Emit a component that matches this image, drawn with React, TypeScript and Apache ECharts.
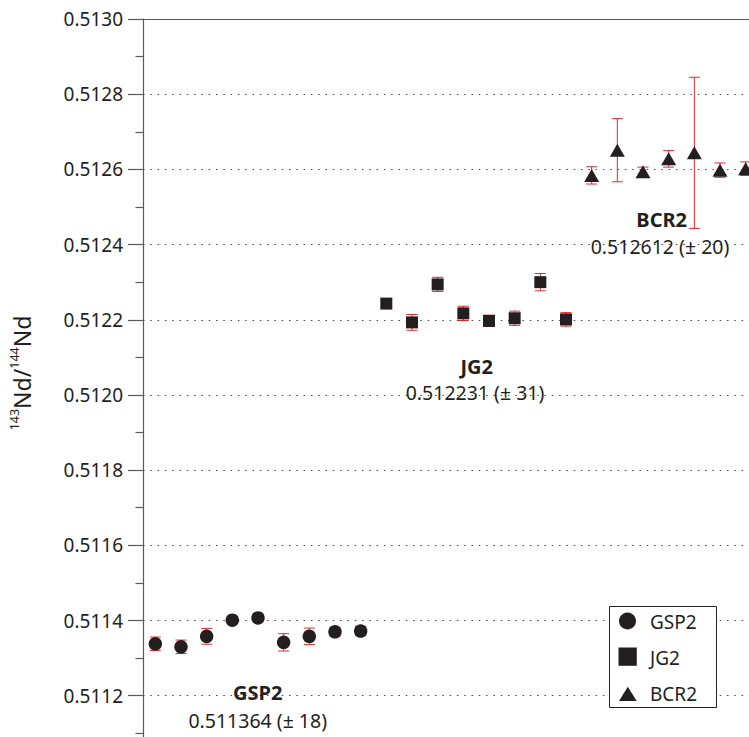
import React, { useEffect, useRef } from "react";
import * as echarts from "echarts";

const gsp2Index = [1, 2, 3, 4, 5, 6, 7, 8, 9];
const gsp2Values = [0.511338, 0.51133, 0.511358, 0.511401, 0.511407, 0.511342, 0.511358, 0.51137, 0.511372];
const gsp2Errors = [0.000018, 0.000018, 0.000021, 0.000008, 0.00001, 0.000023, 0.000022, 0.000012, 0.000012];

const jg2Index = [10, 11, 12, 13, 14, 15, 16, 17];
const jg2Values = [0.512243, 0.512193, 0.512294, 0.512217, 0.512197, 0.512204, 0.5123, 0.512201];
const jg2Errors = [0.000008, 0.000021, 0.000019, 0.000019, 0.000015, 0.000019, 0.000023, 0.000018];

const bcr2Index = [18, 19, 20, 21, 22, 23, 24];
const bcr2Values = [0.512584, 0.512651, 0.512594, 0.512628, 0.512644, 0.512598, 0.512602];
const bcr2Errors = [0.000023, 0.000084, 0.000012, 0.000022, 0.000201, 0.000019, 0.000018];

const sampleNames = ["GSP2", "JG2", "BCR2"];
const sampleMeans = ["0.511364 (± 18)", "0.512231 (± 31)", "0.512612 (± 20)"];

const yMin = 0.511;
const yMax = 0.513;
const yInterval = 0.0002;

const FONT = "'Noto Sans', 'Open Sans', sans-serif";
const INK = "#231f20";
const AXIS = "#5a5a5a";
const RED = "#e8262d";

function toXY(idx: number[], vals: number[]) {
  return idx.map((x, i) => [x, vals[i]]);
}
function toErr(idx: number[], vals: number[], errs: number[]) {
  return idx.map((x, i) => [x, vals[i], errs[i]]);
}

export default function App() {
  const ref = useRef<HTMLDivElement>(null);

  useEffect(() => {
    if (!ref.current) return;
    const chart = echarts.init(ref.current, undefined, { renderer: "svg" });

    const errorRender = (params: any, api: any) => {
      const x = api.value(0);
      const y = api.value(1);
      const e = api.value(2);
      const top = api.coord([x, y + e]);
      const bot = api.coord([x, y - e]);
      const hw = 5.5;
      const style = { stroke: RED, lineWidth: 1, fill: "none" };
      return {
        type: "group",
        children: [
          { type: "line", shape: { x1: top[0], y1: top[1], x2: bot[0], y2: bot[1] }, style },
          { type: "line", shape: { x1: top[0] - hw, y1: top[1], x2: top[0] + hw, y2: top[1] }, style },
          { type: "line", shape: { x1: bot[0] - hw, y1: bot[1], x2: bot[0] + hw, y2: bot[1] }, style },
        ],
      };
    };

    const annoPos = [
      [257.7, 692.5, 257.7, 720],
      [476.7, 366.5, 475, 392.5],
      [661.7, 219, 660, 246.5],
    ];
    const annoGraphics: any[] = [];
    sampleNames.forEach((n, i) => {
      const p = annoPos[i];
      annoGraphics.push({
        type: "text",
        x: p[0],
        y: p[1],
        style: { text: n, fontFamily: FONT, fontSize: 20, fontWeight: "bold", fill: INK, align: "center", verticalAlign: "middle" },
        z: 10,
      });
      annoGraphics.push({
        type: "text",
        x: p[2],
        y: p[3],
        style: { text: sampleMeans[i], fontFamily: FONT, fontSize: 19.5, fill: INK, align: "center", verticalAlign: "middle" },
        z: 10,
      });
    });

    const legendGraphics: any[] = [
      { type: "rect", shape: { x: 609.5, y: 606.5, width: 107, height: 101 }, style: { fill: "#fff", stroke: INK, lineWidth: 1 }, z: 20 },
      { type: "circle", shape: { cx: 627.5, cy: 621, r: 8.5 }, style: { fill: INK }, z: 21 },
      { type: "rect", shape: { x: 618.5, y: 647.5, width: 18.3, height: 18.3 }, style: { fill: INK }, z: 21 },
      { type: "polygon", shape: { points: [[627.8, 686.7], [619, 701], [636.7, 701]] }, style: { fill: INK }, z: 21 },
    ];
    const legendY = [622, 658, 694];
    sampleNames.forEach((n, i) => {
      legendGraphics.push({
        type: "text",
        x: 650,
        y: legendY[i],
        style: { text: n, fontFamily: FONT, fontSize: 19, fill: INK, align: "left", verticalAlign: "middle" },
        z: 21,
      });
    });

    const option: any = {
      animation: false,
      backgroundColor: "#fff",
      grid: { left: 143, right: 0, top: 19, bottom: 29.1, containLabel: false },
      xAxis: {
        type: "value",
        position: "top",
        min: 0.52,
        max: 24.13,
        axisLine: { show: true, lineStyle: { color: AXIS, width: 1.2 } },
        axisTick: { show: false },
        axisLabel: { show: false },
        splitLine: { show: false },
      },
      yAxis: {
        type: "value",
        min: yMin,
        max: yMax,
        interval: yInterval,
        axisLine: { show: true, lineStyle: { color: AXIS, width: 1.2 } },
        axisTick: { show: true, length: 15, lineStyle: { color: AXIS, width: 1.2 } },
        minorTick: { show: true, splitNumber: 2, length: 7.5, lineStyle: { color: AXIS, width: 1.2 } },
        axisLabel: {
          margin: 20,
          fontFamily: FONT,
          fontSize: 19,
          color: INK,
          showMinLabel: false,
          formatter: (v: number) => v.toFixed(4),
        },
        splitLine: { show: true, lineStyle: { color: "#444", width: 1, type: [1.5, 5.8] } },
      },
      graphic: [
        {
          type: "text",
          x: 22,
          y: 373,
          rotation: Math.PI / 2,
          style: {
            text: "{s|143}{n|Nd/}{s|144}{n|Nd}",
            align: "center",
            verticalAlign: "middle",
            fill: INK,
            rich: {
              s: { fontFamily: FONT, fontSize: 12.5, lineHeight: 14, verticalAlign: "top", fill: INK },
              n: { fontFamily: FONT, fontSize: 23, lineHeight: 28, verticalAlign: "middle", fill: INK },
            },
          },
        },
        ...annoGraphics,
        ...legendGraphics,
      ],
      series: [
        { type: "custom", name: "GSP2 err", renderItem: errorRender, data: toErr(gsp2Index, gsp2Values, gsp2Errors), encode: { x: 0, y: 1 }, z: 2 },
        { type: "custom", name: "JG2 err", renderItem: errorRender, data: toErr(jg2Index, jg2Values, jg2Errors), encode: { x: 0, y: 1 }, z: 2 },
        { type: "custom", name: "BCR2 err", renderItem: errorRender, data: toErr(bcr2Index, bcr2Values, bcr2Errors), encode: { x: 0, y: 1 }, z: 2 },
        { type: "scatter", name: "GSP2", symbol: "circle", symbolSize: 13.5, itemStyle: { color: INK, opacity: 1 }, data: toXY(gsp2Index, gsp2Values), z: 3 },
        { type: "scatter", name: "JG2", symbol: "rect", symbolSize: 12, itemStyle: { color: INK, opacity: 1 }, data: toXY(jg2Index, jg2Values), z: 3 },
        { type: "scatter", name: "BCR2", symbol: "triangle", symbolSize: [15, 13], itemStyle: { color: INK, opacity: 1 }, data: toXY(bcr2Index, bcr2Values), z: 3 },
      ],
    };

    chart.setOption(option);
    return () => chart.dispose();
  }, []);

  return (
    <div
      ref={ref}
      style={{ position: "fixed", left: 0, top: 0, width: 749, height: 800, background: "#fff" }}
    />
  );
}
